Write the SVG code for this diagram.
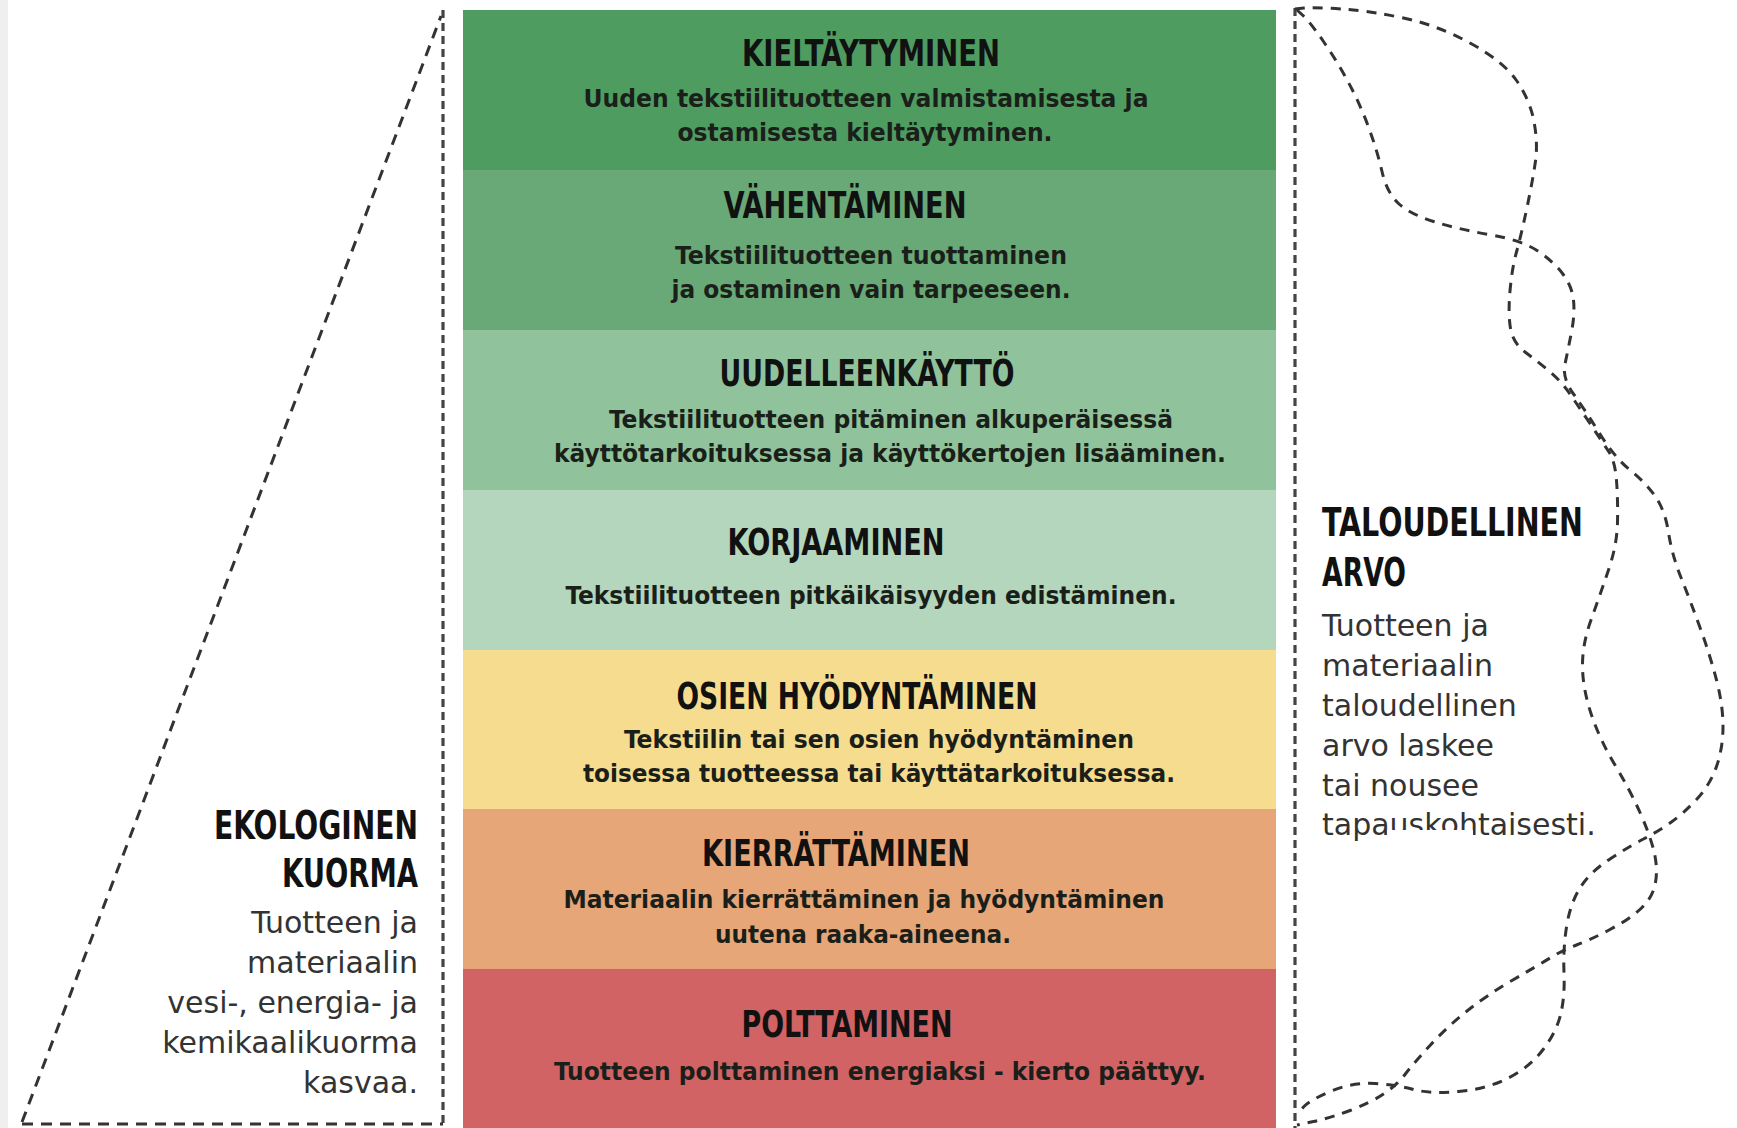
<svg xmlns="http://www.w3.org/2000/svg" width="1737" height="1128" viewBox="0 0 1737 1128">
<style>
.h{font-family:"DejaVu Sans Condensed","DejaVu Sans",sans-serif;font-weight:bold;font-size:37px;fill:#111;text-anchor:middle}
.b{font-family:"DejaVu Sans Condensed","DejaVu Sans",sans-serif;font-weight:bold;font-size:24px;fill:#1a1f1a;text-anchor:middle}
.sh{font-family:"DejaVu Sans Condensed","DejaVu Sans",sans-serif;font-weight:bold;font-size:39px;fill:#111}
.st{font-family:"DejaVu Sans",sans-serif;font-size:30px;fill:#333}
.dl{fill:none;stroke:#333;stroke-width:3;stroke-dasharray:11 8}
.dv{fill:none;stroke:#444;stroke-width:3.2;stroke-dasharray:8 5}
.dc{fill:none;stroke:#333;stroke-width:3;stroke-dasharray:10 8;stroke-linecap:butt}
</style>
<rect x="0" y="0" width="1737" height="1128" fill="#ffffff"/>
<rect x="0" y="0" width="8" height="1128" fill="#efefef"/>

<g id="band-kieltaytyminen">
<rect x="463" y="10" width="813" height="160" fill="#4f9c61"/>
<text class="h" x="871" y="66" textLength="258" lengthAdjust="spacingAndGlyphs">KIELTÄYTYMINEN</text>
<text class="b" x="866" y="107" textLength="565" lengthAdjust="spacingAndGlyphs">Uuden tekstiilituotteen valmistamisesta ja</text>
<text class="b" x="865" y="141" textLength="375" lengthAdjust="spacingAndGlyphs">ostamisesta kieltäytyminen.</text>
</g>
<g id="band-vahentaminen">
<rect x="463" y="170" width="813" height="160" fill="#69a977"/>
<text class="h" x="845" y="218" textLength="243" lengthAdjust="spacingAndGlyphs">VÄHENTÄMINEN</text>
<text class="b" x="871" y="264" textLength="392" lengthAdjust="spacingAndGlyphs">Tekstiilituotteen tuottaminen</text>
<text class="b" x="871" y="298" textLength="399" lengthAdjust="spacingAndGlyphs">ja ostaminen vain tarpeeseen.</text>
</g>
<g id="band-uudelleenkaytto">
<rect x="463" y="330" width="813" height="160" fill="#90c39b"/>
<text class="h" x="867" y="386" textLength="295" lengthAdjust="spacingAndGlyphs">UUDELLEENKÄYTTÖ</text>
<text class="b" x="891" y="428" textLength="564" lengthAdjust="spacingAndGlyphs">Tekstiilituotteen pitäminen alkuperäisessä</text>
<text class="b" x="890" y="462" textLength="672" lengthAdjust="spacingAndGlyphs">käyttötarkoituksessa ja käyttökertojen lisääminen.</text>
</g>
<g id="band-korjaaminen">
<rect x="463" y="490" width="813" height="160" fill="#b4d6bc"/>
<text class="h" x="836" y="555" textLength="217" lengthAdjust="spacingAndGlyphs">KORJAAMINEN</text>
<text class="b" x="871" y="604" textLength="611" lengthAdjust="spacingAndGlyphs">Tekstiilituotteen pitkäikäisyyden edistäminen.</text>
</g>
<g id="band-osien">
<rect x="463" y="650" width="813" height="159" fill="#f6dc8f"/>
<text class="h" x="857" y="709" textLength="361" lengthAdjust="spacingAndGlyphs">OSIEN HYÖDYNTÄMINEN</text>
<text class="b" x="879" y="748" textLength="510" lengthAdjust="spacingAndGlyphs">Tekstiilin tai sen osien hyödyntäminen</text>
<text class="b" x="879" y="782" textLength="592" lengthAdjust="spacingAndGlyphs">toisessa tuotteessa tai käyttätarkoituksessa.</text>
</g>
<g id="band-kierrattaminen">
<rect x="463" y="809" width="813" height="160" fill="#e7a677"/>
<text class="h" x="836" y="866" textLength="268" lengthAdjust="spacingAndGlyphs">KIERRÄTTÄMINEN</text>
<text class="b" x="864" y="908" textLength="601" lengthAdjust="spacingAndGlyphs">Materiaalin kierrättäminen ja hyödyntäminen</text>
<text class="b" x="863" y="943" textLength="296" lengthAdjust="spacingAndGlyphs">uutena raaka-aineena.</text>
</g>
<g id="band-polttaminen">
<rect x="463" y="969" width="813" height="159" fill="#d16365"/>
<text class="h" x="847" y="1037" textLength="211" lengthAdjust="spacingAndGlyphs">POLTTAMINEN</text>
<text class="b" x="880" y="1080" textLength="652" lengthAdjust="spacingAndGlyphs">Tuotteen polttaminen energiaksi - kierto päättyy.</text>
</g>

<g id="ekologinen-kuorma">
<text class="sh" x="418" y="839" text-anchor="end" textLength="204" lengthAdjust="spacingAndGlyphs">EKOLOGINEN</text>
<text class="sh" x="418" y="887" text-anchor="end" textLength="136" lengthAdjust="spacingAndGlyphs">KUORMA</text>
<text class="st" x="418" y="933" text-anchor="end">Tuotteen ja</text>
<text class="st" x="418" y="973" text-anchor="end">materiaalin</text>
<text class="st" x="418" y="1013" text-anchor="end">vesi-, energia- ja</text>
<text class="st" x="418" y="1053" text-anchor="end">kemikaalikuorma</text>
<text class="st" x="418" y="1093" text-anchor="end">kasvaa.</text>
</g>

<g id="taloudellinen-arvo">
<text class="sh" x="1322" y="536" textLength="261" lengthAdjust="spacingAndGlyphs">TALOUDELLINEN</text>
<text class="sh" x="1322" y="586" textLength="84" lengthAdjust="spacingAndGlyphs">ARVO</text>
<text class="st" x="1322" y="636">Tuotteen ja</text>
<text class="st" x="1322" y="676">materiaalin</text>
<text class="st" x="1322" y="716">taloudellinen</text>
<text class="st" x="1322" y="756">arvo laskee</text>
<text class="st" x="1322" y="796">tai nousee</text>
<text class="st" x="1322" y="835">tapauskohtaisesti.</text>
<rect x="1387" y="830" width="86" height="22" fill="#ffffff"/>
</g>

<g id="connectors">
<line class="dl" x1="22" y1="1122" x2="441" y2="16"/>
<line class="dv" x1="443" y1="10" x2="443" y2="1128"/>
<line class="dl" x1="22" y1="1124" x2="443" y2="1124" stroke-dasharray="10 7"/>
<line class="dv" x1="1295" y1="8" x2="1295" y2="1128"/>
<path class="dc" d="M1295,9 L1304,8 Q1313,7 1341.5,9 Q1370,11 1403.5,18 Q1437,25 1470,43 Q1503,61 1516.5,80.5 Q1530,100 1534,121.5 Q1538,143 1535.5,161 Q1533,179 1527,207.5 Q1521,236 1516.5,252 Q1512,268 1510,291 Q1508,314 1510.5,328.5 Q1513,343 1525,352 Q1537,361 1548.5,370.5 Q1560,380 1568.5,392 Q1577,404 1590,423.5 Q1603,443 1609,452 Q1615,461 1616.5,480.5 Q1618,500 1617.5,522.5 Q1617,545 1608.5,570 Q1600,595 1591,620 Q1582,645 1582.5,667.5 Q1583,690 1591.5,715 Q1600,740 1615,765 Q1630,790 1640,812.5 Q1650,835 1654,851.5 Q1658,868 1655.5,882.5 Q1653,897 1641.5,908 Q1630,919 1610,929.5 Q1590,940 1576.5,945 Q1563,950 1550,958 Q1537,966 1512,980.5 Q1487,995 1467,1011 Q1447,1027 1430,1045.5 Q1413,1064 1405,1074.5 Q1397,1085 1383.5,1094 Q1370,1103 1350,1110.5 Q1330,1118 1313.5,1121.5 L1297,1125"/>
<path class="dc" d="M1297,10 L1303.5,16 Q1310,22 1323.5,41.5 Q1337,61 1348.5,82.5 Q1360,104 1368.5,127 Q1377,150 1382,171.5 Q1387,193 1398.5,203.5 Q1410,214 1433.5,221.5 Q1457,229 1489,234.5 Q1521,240 1537,250.5 Q1553,261 1562.5,273.5 Q1572,286 1573.5,300 Q1575,314 1571.5,332 Q1568,350 1565,364 Q1562,378 1573.5,394 Q1585,410 1600,434 Q1615,458 1630,470 Q1645,482 1655,496 Q1665,510 1668.5,532.5 Q1672,555 1681,577.5 Q1690,600 1700,627.5 Q1710,655 1716.5,680 Q1723,705 1723,726.5 Q1723,748 1716.5,766.5 Q1710,785 1696.5,799.5 Q1683,814 1670,823 Q1657,832 1643.5,839 Q1630,846 1610,859 Q1590,872 1580,888 Q1570,904 1566.5,927 Q1563,950 1564,972.5 Q1565,995 1561,1013 Q1557,1031 1543.5,1049 Q1530,1067 1508.5,1078 Q1487,1089 1458.5,1091.5 Q1430,1094 1413.5,1089.5 Q1397,1085 1375,1083.5 Q1353,1082 1331.5,1091 Q1310,1100 1303.5,1107 L1297,1114"/>
</g>
</svg>
